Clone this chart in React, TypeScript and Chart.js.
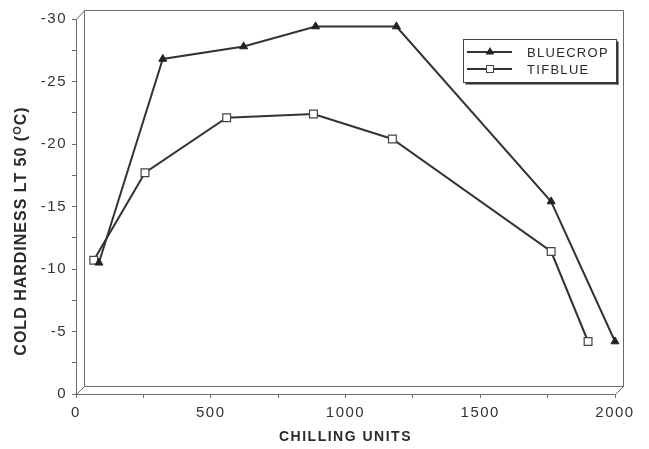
import React, { useEffect, useRef } from 'react';
import { Chart, registerables } from 'chart.js';

Chart.register(...registerables);

const seriesNames = ['BLUECROP', 'TIFBLUE'];
const bluecropX = [85, 322, 622, 889, 1189, 1763, 2000];
const bluecropY = [10.5, 26.8, 27.8, 29.4, 29.4, 15.4, 4.2];
const tifblueX = [66, 256, 559, 881, 1174, 1763, 1900];
const tifblueY = [10.7, 17.7, 22.1, 22.4, 20.4, 11.4, 4.2];
const xTitle = 'CHILLING UNITS';
const yTitleMain = 'COLD HARDINESS LT 50 (';
const yTitleSup = 'O';
const yTitleEnd = 'C)';

const FONT = "'Liberation Sans', Arial, Helvetica, sans-serif";
const LINE = '#333333';
const FRAME = '#6a6a6a';

const spacingPlugin = {
  id: 'spacing',
  beforeDraw(chart: any) {
    chart.ctx.letterSpacing = '1.5px';
  },
};

const framePlugin = {
  id: 'frame3d',
  beforeDatasetsDraw(chart: any) {
    const { ctx, chartArea } = chart;
    const { left, top, right, bottom } = chartArea;
    const d = 8;
    const L = Math.round(left) + 0.5;
    const T = Math.round(top) + 0.5;
    const R = Math.round(right) + 0.5;
    const B = Math.round(bottom) + 0.5;
    ctx.save();
    ctx.strokeStyle = FRAME;
    ctx.lineWidth = 1;
    ctx.beginPath();
    ctx.moveTo(L + d, B - d);
    ctx.lineTo(L + d, T - d - 1);
    ctx.lineTo(R + d, T - d - 1);
    ctx.lineTo(R + d, B - d);
    ctx.lineTo(L + d, B - d);
    ctx.moveTo(L, T);
    ctx.lineTo(L + d, T - d - 1);
    ctx.moveTo(L, B);
    ctx.lineTo(L + d, B - d);
    ctx.moveTo(R, B);
    ctx.lineTo(R + d, B - d);
    ctx.stroke();
    ctx.restore();
  },
  afterDraw(chart: any) {
    const { ctx } = chart;
    // Y title (rotated) with superscript O
    ctx.save();
    ctx.letterSpacing = '1px';
    ctx.fillStyle = '#2a2a2a';
    const big = `bold 16px ${FONT}`;
    const small = `bold 11px ${FONT}`;
    ctx.font = big;
    const w1 = ctx.measureText(yTitleMain).width;
    const w3 = ctx.measureText(yTitleEnd).width;
    ctx.font = small;
    const w2 = ctx.measureText(yTitleSup).width;
    const total = w1 + w2 + w3;
    ctx.translate(22, 231);
    ctx.rotate(-Math.PI / 2);
    ctx.textBaseline = 'middle';
    ctx.textAlign = 'left';
    let x = -total / 2;
    ctx.font = big;
    ctx.fillText(yTitleMain, x, 0);
    x += w1;
    ctx.font = small;
    ctx.fillText(yTitleSup, x, -4);
    x += w2;
    ctx.font = big;
    ctx.fillText(yTitleEnd, x, 0);
    ctx.restore();

    // Legend box
    ctx.save();
    ctx.letterSpacing = '1.3px';
    const bx = 463.5, by = 39.5, bw = 153, bh = 43;
    ctx.fillStyle = '#ffffff';
    ctx.fillRect(bx, by, bw, bh);
    ctx.strokeStyle = '#444';
    ctx.lineWidth = 1;
    ctx.strokeRect(bx, by, bw, bh);
    // shadow
    ctx.fillStyle = '#333';
    ctx.fillRect(bx + bw, by + 2, 2, bh);
    ctx.fillRect(bx + 2, by + bh, bw, 2);
    const rows = [52, 69];
    const dsets = chart.data.datasets;
    rows.forEach((ry: number, i: number) => {
      const ds = dsets[i];
      ctx.strokeStyle = LINE;
      ctx.lineWidth = 2;
      ctx.beginPath();
      ctx.moveTo(467, ry);
      ctx.lineTo(512, ry);
      ctx.stroke();
      ctx.lineWidth = 1;
      ctx.beginPath();
      if (ds.pointStyle === 'triangle') {
        const r = 5;
        ctx.fillStyle = '#222';
        ctx.moveTo(490, ry - r);
        ctx.lineTo(490 + r * 0.866, ry + r / 2);
        ctx.lineTo(490 - r * 0.866, ry + r / 2);
        ctx.closePath();
        ctx.fill();
      } else {
        ctx.fillStyle = '#fff';
        ctx.fillRect(486.5, ry - 3.5, 7, 7);
        ctx.strokeStyle = '#444';
        ctx.strokeRect(486.5, ry - 3.5, 7, 7);
      }
      ctx.fillStyle = '#2a2a2a';
      ctx.font = `13px ${FONT}`;
      ctx.textBaseline = 'middle';
      ctx.textAlign = 'left';
      ctx.fillText(ds.label, 527, ry + 1);
    });
    ctx.restore();
  },
};

export default function App() {
  const ref = useRef<HTMLCanvasElement | null>(null);

  useEffect(() => {
    document.body.style.margin = '0';
    const canvas = ref.current;
    if (!canvas) return;
    Chart.defaults.font.family = FONT;
    const chart = new Chart(canvas, {
      type: 'line',
      data: {
        datasets: [
          {
            label: seriesNames[0],
            data: bluecropX.map((x, i) => ({ x, y: bluecropY[i] })),
            borderColor: LINE,
            borderWidth: 2,
            pointStyle: 'triangle',
            pointRadius: 4.6,
            pointBackgroundColor: '#222',
            pointBorderColor: '#222',
            pointBorderWidth: 1,
            tension: 0,
            clip: false,
          } as any,
          {
            label: seriesNames[1],
            data: tifblueX.map((x, i) => ({ x, y: tifblueY[i] })),
            borderColor: LINE,
            borderWidth: 2,
            pointStyle: 'rect',
            pointRadius: 5.5,
            pointBackgroundColor: '#fff',
            pointBorderColor: '#444',
            pointBorderWidth: 1.2,
            tension: 0,
            clip: false,
          } as any,
        ],
      },
      options: {
        responsive: false,
        animation: false,
        layout: { padding: { top: 19, right: 34, left: 0, bottom: 0 } },
        plugins: {
          legend: { display: false },
          tooltip: { enabled: false },
        },
        scales: {
          x: {
            type: 'linear',
            min: 0,
            max: 2000,
            afterFit: (s: any) => {
              s.height = 55;
            },
            ticks: {
              stepSize: 250,
              autoSkip: false,
              maxRotation: 0,
              padding: 6,
              color: '#333',
              font: { size: 15, family: FONT },
              callback: (v: any) => (Number(v) % 500 === 0 ? String(v) : ''),
            },
            grid: {
              drawOnChartArea: false,
              drawTicks: true,
              tickLength: 4,
              color: FRAME,
            },
            border: { display: true, color: FRAME, width: 1 },
            title: {
              display: true,
              text: xTitle,
              color: '#2a2a2a',
              font: { size: 14, weight: 'bold', family: FONT },
              padding: { top: 0, bottom: 3 },
            },
          },
          y: {
            type: 'linear',
            min: 0,
            max: 30,
            afterFit: (s: any) => {
              s.width = 76;
            },
            ticks: {
              stepSize: 2.5,
              autoSkip: false,
              padding: 5,
              color: '#333',
              font: { size: 15, family: FONT },
              callback: (v: any) => {
                const n = Number(v);
                if (n % 5 !== 0) return '';
                return n === 0 ? '0' : '-' + n;
              },
            },
            grid: {
              drawOnChartArea: false,
              drawTicks: true,
              tickLength: 4,
              color: FRAME,
            },
            border: { display: true, color: FRAME, width: 1 },
            title: { display: false },
          },
        },
      } as any,
      plugins: [spacingPlugin, framePlugin],
    });
    return () => chart.destroy();
  }, []);

  return <canvas ref={ref} width={649} height={449} style={{ display: 'block' }} />;
}
